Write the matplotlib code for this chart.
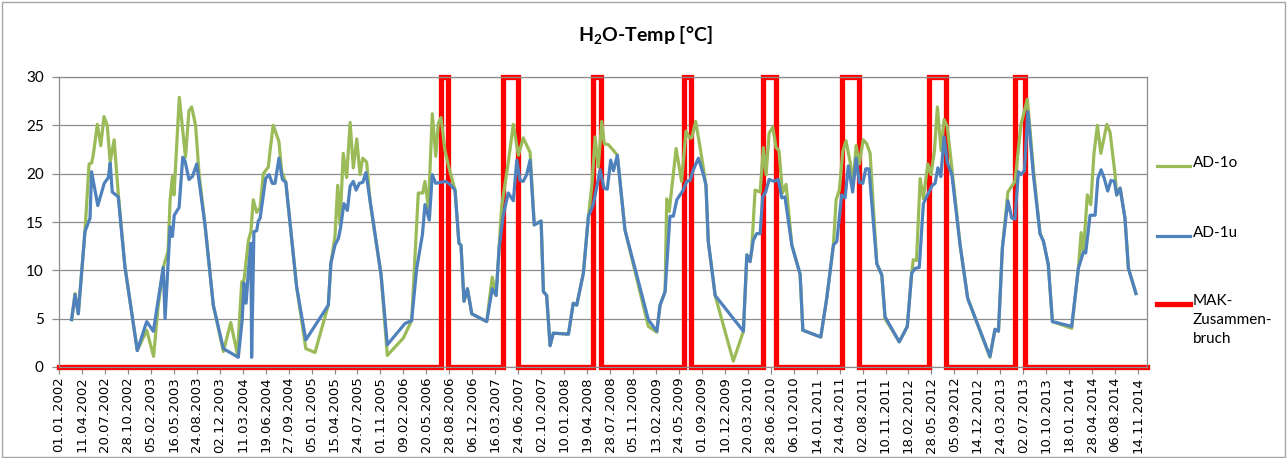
import matplotlib
matplotlib.use("Agg")
import matplotlib.pyplot as plt
from matplotlib.lines import Line2D
from matplotlib.patches import Rectangle
import pandas as pd

# ---------------- data (x = days since 01.01.2002) ----------------
START_DATE = "2002-01-01"
AXIS_END_DAY = 4739

TICK_LABELS = ["01.01.2002", "11.04.2002", "20.07.2002", "28.10.2002", "05.02.2003",
               "16.05.2003", "24.08.2003", "02.12.2003", "11.03.2004", "19.06.2004",
               "27.09.2004", "05.01.2005", "15.04.2005", "24.07.2005", "01.11.2005",
               "09.02.2006", "20.05.2006", "28.08.2006", "06.12.2006", "16.03.2007",
               "24.06.2007", "02.10.2007", "10.01.2008", "19.04.2008", "28.07.2008",
               "05.11.2008", "13.02.2009", "24.05.2009", "01.09.2009", "10.12.2009",
               "20.03.2010", "28.06.2010", "06.10.2010", "14.01.2011", "24.04.2011",
               "02.08.2011", "10.11.2011", "18.02.2012", "28.05.2012", "05.09.2012",
               "14.12.2012", "24.03.2013", "02.07.2013", "10.10.2013", "18.01.2014",
               "28.04.2014", "06.08.2014", "14.11.2014"]
Y_TICKS = [0, 5, 10, 15, 20, 25, 30]

AD1U_DAY = [55, 70, 84, 113, 135, 142, 169, 197, 215, 223, 232, 258, 287, 341, 382, 411, 454, 462,
            484, 494, 502, 523, 539, 549, 566, 581, 600, 636, 672, 716, 781, 798, 806, 815, 825,
            836, 839, 849, 861, 868, 876, 900, 915, 929, 941, 958, 973, 988, 1035, 1075, 1173,
            1184, 1202, 1217, 1227, 1241, 1256, 1268, 1282, 1294, 1308, 1323, 1337, 1403, 1430,
            1507, 1536, 1558, 1583, 1594, 1613, 1626, 1641, 1660, 1684, 1703, 1725, 1742, 1751,
            1764, 1779, 1798, 1863, 1887, 1904, 1917, 1935, 1957, 1979, 1994, 2008, 2022, 2037,
            2052, 2070, 2100, 2110, 2124, 2139, 2153, 2219, 2240, 2255, 2284, 2306, 2327, 2357,
            2374, 2388, 2403, 2415, 2432, 2465, 2567, 2604, 2618, 2640, 2661, 2676, 2691, 2719,
            2734, 2749, 2763, 2785, 2807, 2818, 2828, 2858, 2981, 2996, 3010, 3024, 3039, 3054,
            3065, 3078, 3093, 3115, 3133, 3148, 3162, 3192, 3228, 3240, 3318, 3344, 3373, 3388,
            3409, 3424, 3438, 3457, 3472, 3486, 3501, 3514, 3528, 3562, 3584, 3598, 3660, 3695,
            3714, 3729, 3747, 3765, 3787, 3804, 3816, 3828, 3841, 3855, 3869, 3889, 3925, 3958,
            4055, 4077, 4092, 4109, 4133, 4150, 4164, 4179, 4190, 4205, 4220, 4244, 4273, 4288,
            4309, 4327, 4411, 4440, 4462, 4472, 4491, 4513, 4525, 4539, 4553, 4568, 4582, 4597,
            4607, 4622, 4643, 4658, 4691]
AD1U_VAL = [4.9, 7.5, 5.5, 14.0, 15.4, 20.2, 16.7, 19.0, 19.6, 21.1, 18.1, 17.6, 10.4, 1.7, 4.7, 3.7,
            10.3, 5.0, 14.5, 13.5, 15.7, 16.5, 21.7, 21.3, 19.4, 19.7, 21.0, 14.7, 6.4, 1.9, 1.0,
            4.9, 8.7, 6.6, 9.9, 12.8, 1.0, 14.0, 14.1, 15.1, 15.4, 19.5, 19.9, 19.0, 19.0, 21.6,
            19.4, 19.1, 8.3, 2.8, 6.4, 10.7, 12.6, 13.3, 14.5, 16.9, 16.2, 18.7, 19.2, 18.3, 19.0,
            19.1, 20.1, 9.5, 2.3, 4.5, 4.8, 10.2, 13.7, 16.8, 15.2, 19.9, 19.0, 19.1, 19.2, 18.9,
            18.3, 12.8, 12.6, 6.8, 8.1, 5.5, 4.7, 8.1, 7.4, 12.3, 15.7, 18.0, 17.2, 21.4, 19.3,
            19.2, 19.9, 21.4, 14.7, 15.1, 7.8, 7.4, 2.2, 3.5, 3.4, 6.6, 6.4, 9.7, 15.6, 16.8, 20.4,
            18.5, 18.4, 21.4, 20.3, 21.9, 14.2, 4.9, 3.7, 6.4, 7.8, 15.6, 15.6, 17.3, 18.3, 19.2,
            19.3, 20.4, 21.6, 19.9, 18.8, 13.0, 7.4, 3.7, 11.6, 10.9, 13.1, 13.8, 13.8, 17.6, 18.1,
            19.4, 19.2, 19.4, 17.5, 17.6, 12.6, 9.6, 3.8, 3.1, 7.1, 12.6, 13.0, 17.8, 17.5, 20.8,
            18.1, 21.6, 19.1, 19.0, 20.5, 20.5, 10.7, 9.5, 5.2, 2.6, 4.2, 9.7, 10.2, 10.3, 16.9,
            18.0, 18.8, 19.0, 20.6, 19.7, 23.8, 21.2, 19.9, 12.6, 7.1, 1.1, 3.9, 3.7, 12.3, 17.2,
            15.4, 15.3, 20.2, 19.9, 20.3, 26.4, 19.9, 13.8, 13.0, 10.6, 4.7, 4.2, 10.2, 11.9, 11.8,
            15.7, 15.7, 19.5, 20.4, 19.5, 18.2, 19.3, 19.2, 17.8, 18.5, 15.4, 10.2, 7.6]

AD1O_DAY = [55, 70, 84, 113, 131, 142, 149, 167, 182, 196, 210, 223, 240, 258, 287, 341, 382, 412,
            431, 454, 475, 484, 494, 501, 524, 541, 551, 566, 578, 595, 610, 636, 672, 716, 748,
            777, 796, 806, 825, 836, 846, 861, 876, 890, 912, 919, 933, 941, 958, 970, 988, 1035,
            1075, 1115, 1173, 1184, 1202, 1214, 1224, 1238, 1253, 1268, 1282, 1297, 1311, 1323,
            1340, 1355, 1403, 1430, 1500, 1536, 1565, 1584, 1594, 1609, 1626, 1641, 1652, 1664,
            1681, 1703, 1725, 1742, 1751, 1764, 1779, 1798, 1863, 1887, 1904, 1917, 1928, 1957,
            1979, 2001, 2022, 2052, 2070, 2100, 2110, 2124, 2139, 2153, 2219, 2240, 2255, 2284,
            2306, 2322, 2335, 2349, 2364, 2375, 2393, 2415, 2432, 2465, 2567, 2604, 2618, 2640,
            2647, 2658, 2688, 2712, 2731, 2746, 2756, 2773, 2792, 2818, 2828, 2858, 2937, 2981,
            2996, 3010, 3017, 3032, 3054, 3068, 3080, 3093, 3109, 3123, 3136, 3151, 3167, 3192,
            3228, 3240, 3318, 3344, 3373, 3385, 3399, 3414, 3428, 3446, 3460, 3472, 3486, 3503,
            3518, 3533, 3562, 3584, 3598, 3660, 3695, 3714, 3721, 3735, 3751, 3765, 3784, 3798,
            3813, 3826, 3842, 3855, 3869, 3889, 3925, 3958, 4055, 4077, 4092, 4109, 4133, 4164,
            4190, 4218, 4244, 4273, 4288, 4309, 4327, 4411, 4440, 4452, 4462, 4479, 4494, 4508,
            4523, 4538, 4564, 4578, 4600, 4607, 4622, 4643, 4658, 4691]
AD1O_VAL = [4.9, 7.6, 5.5, 14.0, 21.0, 21.1, 21.9, 25.1, 22.9, 25.9, 25.0, 21.2, 23.5, 18.0, 10.4,
            1.7, 3.8, 1.1, 6.1, 10.3, 12.0, 17.3, 19.7, 17.8, 27.9, 24.0, 21.7, 26.5, 26.9, 25.0,
            20.0, 14.7, 6.4, 1.6, 4.6, 1.3, 8.8, 9.0, 13.1, 14.0, 17.3, 16.0, 16.5, 20.0, 20.7,
            22.3, 25.0, 24.5, 23.3, 20.2, 19.1, 8.3, 1.9, 1.5, 6.4, 10.7, 13.5, 18.8, 14.7, 22.1,
            19.6, 25.3, 20.6, 23.6, 19.9, 21.6, 21.2, 17.1, 9.5, 1.2, 3.0, 4.8, 18.0, 18.0, 19.2,
            16.4, 26.2, 21.8, 25.2, 25.8, 22.4, 20.2, 18.3, 12.8, 12.6, 6.8, 8.1, 5.5, 4.7, 9.3,
            7.4, 12.3, 16.6, 21.2, 25.1, 21.9, 23.7, 22.2, 14.7, 15.1, 7.8, 7.4, 2.2, 3.5, 3.4,
            6.6, 6.4, 9.7, 15.6, 19.0, 23.8, 20.7, 25.4, 23.1, 23.0, 22.4, 21.9, 14.2, 4.2, 3.6,
            6.4, 7.8, 17.4, 16.1, 22.6, 19.2, 24.4, 23.7, 23.7, 25.4, 22.8, 18.8, 13.0, 7.4, 0.6,
            3.7, 11.6, 10.9, 12.1, 18.3, 18.1, 22.7, 19.9, 24.2, 24.8, 22.7, 22.4, 18.0, 18.9,
            12.6, 9.6, 3.8, 3.1, 7.1, 12.6, 17.3, 18.3, 22.3, 23.4, 21.2, 19.2, 22.9, 21.0, 23.5,
            23.1, 22.1, 10.7, 9.5, 5.0, 2.6, 4.2, 9.7, 11.1, 11.0, 19.5, 17.4, 21.0, 19.9, 22.3,
            26.9, 22.4, 25.6, 24.9, 20.6, 12.6, 7.1, 1.0, 3.9, 3.7, 12.3, 18.1, 19.2, 25.1, 27.7,
            20.5, 13.8, 13.0, 10.6, 4.7, 4.0, 10.2, 13.9, 11.8, 17.8, 16.8, 22.1, 25.0, 22.1, 25.1,
            24.3, 19.9, 17.8, 18.5, 15.4, 10.2, 7.6]

# MAK-Zusammenbruch periods (value 30 between start and end, otherwise 0)
MAK_START = [1663, 1935, 2327, 2724, 3068, 3411, 3791, 4164]
MAK_END = [1696, 1998, 2360, 2753, 3122, 3485, 3862, 4209]
MAK_ON, MAK_OFF = 30, 0

# build step series for MAK
mak_x, mak_y = [0], [MAK_OFF]
for s, e in zip(MAK_START, MAK_END):
    mak_x += [s, s, e, e]
    mak_y += [MAK_OFF, MAK_ON, MAK_ON, MAK_OFF]
mak_x.append(AXIS_END_DAY)
mak_y.append(MAK_OFF)

start = pd.Timestamp(START_DATE)
tick_pos = [(pd.to_datetime(t, format="%d.%m.%Y") - start).days for t in TICK_LABELS]

# ---------------- styling ----------------
GREEN = "#9BBB59"
BLUE = "#4F81BD"
RED = "#FF0000"
GRID = "#8c8c8c"
FONT = "Lato"

W, H = 1288, 458
fig = plt.figure(figsize=(W / 100, H / 100), dpi=100)
fig.patch.set_facecolor("white")
ax = fig.add_axes([59 / W, 1 - 367 / H, (1147 - 59) / W, (367 - 77) / H])

ax.plot(mak_x, mak_y, color=RED, lw=3.8, solid_joinstyle="miter", zorder=2, clip_on=False)
ax.plot(AD1O_DAY, AD1O_VAL, color=GREEN, lw=2.3, zorder=3, solid_joinstyle="round")
ax.plot(AD1U_DAY, AD1U_VAL, color=BLUE, lw=2.3, zorder=4, solid_joinstyle="round")

ax.set_xlim(0, AXIS_END_DAY)
ax.set_ylim(0, 30)
ax.set_yticks(Y_TICKS)
ax.set_xticks(tick_pos)
ax.set_xticklabels(TICK_LABELS, rotation=90, family="DejaVu Sans", fontsize=9.5)
for lab in ax.get_yticklabels():
    lab.set_family(FONT)
    lab.set_fontsize(11)
ax.yaxis.grid(True, color=GRID, lw=0.9)
ax.set_axisbelow(True)
for sp in ax.spines.values():
    sp.set_color(GRID)
    sp.set_linewidth(0.9)
ax.tick_params(axis="both", length=5, width=0.9, color=GRID, direction="out")
ax.tick_params(axis="x", pad=2)
ax.tick_params(axis="y", pad=6)

# title
plt.rcParams["mathtext.fontset"] = "custom"
plt.rcParams["mathtext.rm"] = "Lato:bold"
plt.rcParams["mathtext.it"] = "Lato:bold"
plt.rcParams["mathtext.bf"] = "Lato:bold"
fig.text(645 / W, 1 - 35 / H, "H$_2$O-Temp [°C]", ha="center", va="center",
         fontsize=14, fontweight="bold", family=FONT)

# legend (manual, outside right)
legend_items = [("AD-1o", GREEN, 2.3, 166), ("AD-1u", BLUE, 2.3, 236),
                ("MAK-\nZusammen-\nbruch", RED, 3.8, 304)]
for label, color, lw, ypx in legend_items:
    fig.add_artist(Line2D([1157 / W, 1190 / W], [1 - ypx / H] * 2, color=color, lw=lw,
                          transform=fig.transFigure))
    fig.text(1193 / W, 1 - (ypx - 10) / H, label, ha="left", va="top", fontsize=11,
             family=FONT, linespacing=1.45)

# outer chart border
fig.add_artist(Rectangle((1.5 / W, 1.5 / H), (W - 5) / W, (H - 3) / H, fill=False,
                         edgecolor="#a6a6a6", lw=1, transform=fig.transFigure))

fig.savefig("out.png", dpi=100)
